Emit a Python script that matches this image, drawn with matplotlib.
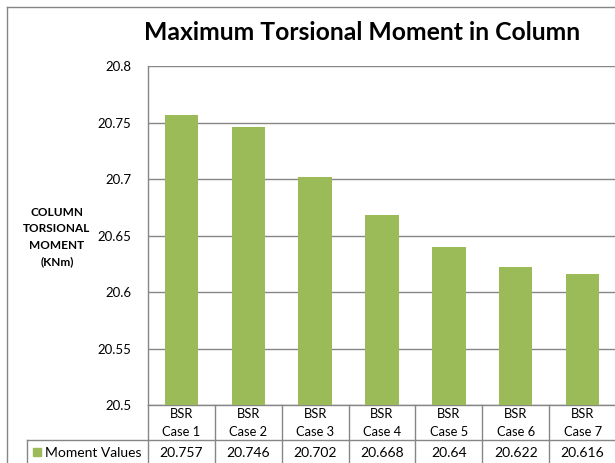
import matplotlib
matplotlib.use('Agg')
import matplotlib.pyplot as plt
from matplotlib.lines import Line2D
from matplotlib.patches import Rectangle

plt.rcParams['font.family'] = ['Lato', 'DejaVu Sans']

CATEGORIES = ['BSR\nCase 1', 'BSR\nCase 2', 'BSR\nCase 3', 'BSR\nCase 4',
              'BSR\nCase 5', 'BSR\nCase 6', 'BSR\nCase 7']
VALUES     = [20.757, 20.746, 20.702, 20.668, 20.64, 20.622, 20.616]
VALUE_TXT  = ['20.757', '20.746', '20.702', '20.668', '20.64', '20.622', '20.616']
YTICKS     = [20.5, 20.55, 20.6, 20.65, 20.7, 20.75, 20.8]
YTICK_TXT  = ['20.5', '20.55', '20.6', '20.65', '20.7', '20.75', '20.8']
SERIES     = 'Moment Values'

W, H = 615, 463
BAR   = '#9bbb59'
GRID  = '#868686'

def fx(x): return x / W
def fy(y): return 1 - y / H

fig = plt.figure(figsize=(W / 100, H / 100), dpi=100)
fig.patch.set_facecolor('white')

# plot area
ax = fig.add_axes([fx(148), fy(405), (616 - 148) / W, (405 - 66) / H])
x = list(range(len(VALUES)))
ax.bar(x, VALUES, width=0.5, color=BAR, zorder=3)
ax.set_xlim(-0.5, len(VALUES) - 0.5)
ax.set_ylim(20.5, 20.8)
ax.set_yticks(YTICKS)
ax.set_yticklabels(YTICK_TXT, fontsize=9.5)
ax.set_xticks([])
ax.tick_params(axis='y', length=0, pad=12)
ax.grid(True, axis='y', color=GRID, linewidth=1.0, zorder=0)
for side in ['top', 'right']:
    ax.spines[side].set_visible(False)
for side in ['left', 'bottom']:
    ax.spines[side].set_color(GRID)
    ax.spines[side].set_linewidth(1.0)

fig.text(fx(57), fy(237), 'COLUMN\nTORSIONAL\nMOMENT\n(KNm)',
         ha='center', va='center', fontsize=8.5, fontweight='bold', linespacing=1.6)

fig.text(fx(362), fy(33), 'Maximum Torsional Moment in Column', ha='center', va='center',
         fontsize=17.8, fontweight='bold')

# data table under the axis
def fline(x0, y0, x1, y1):
    fig.add_artist(Line2D([fx(x0), fx(x1)], [fy(y0), fy(y1)], color=GRID, linewidth=1.0))

bounds = [148 + i * (468 / len(VALUES)) for i in range(len(VALUES) + 1)]
for b in bounds:
    fline(b, 405, b, 463)
fline(27, 440, 616, 440)
fline(27, 440, 27, 463)

for i, (cat, val) in enumerate(zip(CATEGORIES, VALUE_TXT)):
    cx = (bounds[i] + bounds[i + 1]) / 2
    fig.text(fx(cx), fy(423), cat, ha='center', va='center', fontsize=9.3, linespacing=1.55)
    fig.text(fx(cx), fy(453), val, ha='center', va='center', fontsize=10)

fig.add_artist(Rectangle((fx(33), fy(456)), 8 / W, 8 / H, color=BAR, transform=fig.transFigure))
fig.text(fx(45), fy(453), SERIES, ha='left', va='center', fontsize=10)

# chart border
fline(7, 7, 616, 7)
fline(7, 7, 7, 463)

fig.savefig('out.png', dpi=100, facecolor='white')
